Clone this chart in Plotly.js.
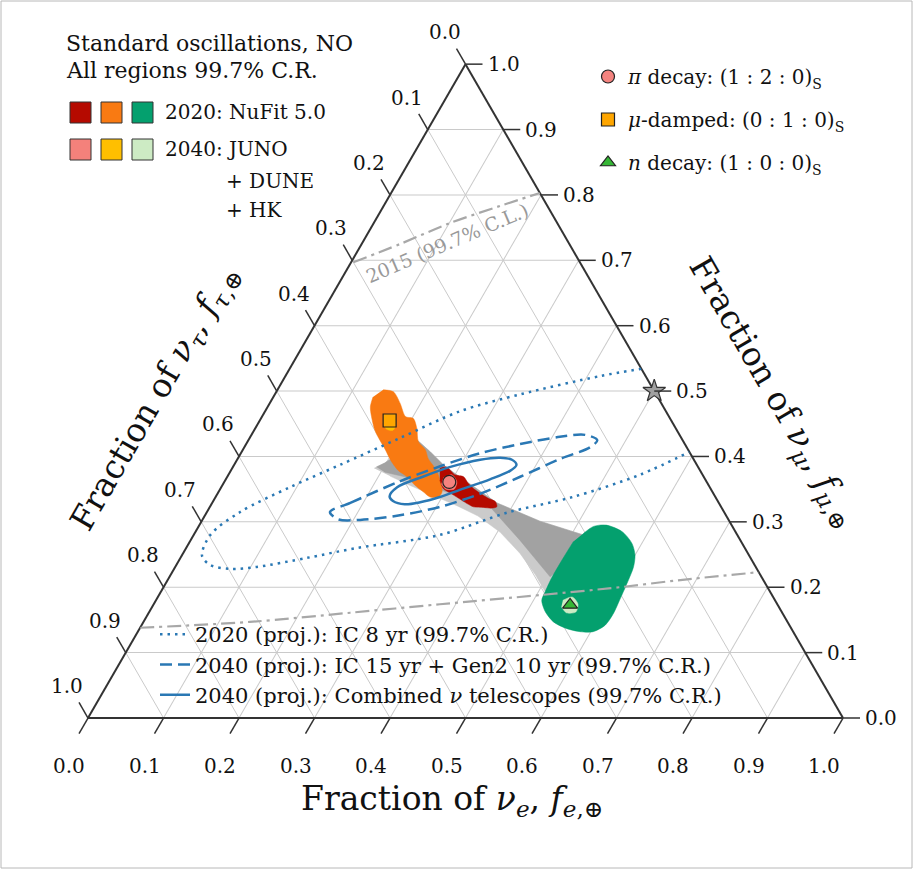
<!DOCTYPE html>
<html><head><meta charset="utf-8">
<script src="https://cdn.plot.ly/plotly-3.0.1.min.js"></script>
<style>html,body{margin:0;padding:0;background:#fff;} #chart{width:915px;height:871px;}</style>
</head><body><div id="chart"></div>
<script>
// ---------- DATA (ternary fractions at Earth: fe = f_e, fmu = f_mu, f_tau = 1 - fe - fmu) ----------
const tickVals = [0, 0.1, 0.2, 0.3, 0.4, 0.5, 0.6, 0.7, 0.8, 0.9, 1.0];
const tickText = ['0.0','0.1','0.2','0.3','0.4','0.5','0.6','0.7','0.8','0.9','1.0'];

// all source compositions (gray bands)
const grayOuter_fe  = [0.188,0.198,0.225,0.250,0.280,0.377,0.448,0.516,0.524,0.509,0.483,0.446,0.404,0.362,0.328,0.298,0.248,0.215];
const grayOuter_fmu = [0.382,0.390,0.424,0.407,0.385,0.329,0.301,0.280,0.242,0.193,0.219,0.252,0.284,0.309,0.324,0.336,0.356,0.370];
const grayInner_fe  = [0.190,0.198,0.225,0.250,0.280,0.377,0.448,0.516,0.515,0.504,0.436,0.371,0.331,0.292,0.243,0.205];
const grayInner_fmu = [0.384,0.390,0.424,0.407,0.385,0.329,0.301,0.280,0.234,0.216,0.272,0.323,0.336,0.349,0.367,0.376];

// 2020 NuFit 5.0 regions
const muDamped2020_fe  = [0.140,0.155,0.173,0.190,0.202,0.214,0.226,0.242,0.252,0.272,0.284,0.296,0.295,0.284,0.271,0.255,0.238,0.221,0.203,0.189,0.174,0.160,0.145,0.136,0.132];
const muDamped2020_fmu = [0.502,0.499,0.481,0.461,0.458,0.443,0.423,0.410,0.397,0.379,0.364,0.346,0.338,0.338,0.346,0.356,0.369,0.379,0.395,0.410,0.425,0.440,0.461,0.476,0.491];
const pion2020_fe  = [0.275,0.283,0.300,0.313,0.324,0.335,0.347,0.362,0.374,0.380,0.374,0.363,0.349,0.338,0.323,0.308,0.295,0.284];
const pion2020_fmu = [0.382,0.384,0.372,0.369,0.359,0.351,0.344,0.336,0.331,0.323,0.321,0.322,0.323,0.328,0.336,0.344,0.351,0.364];
const neutron2020_fe  = [0.515,0.523,0.539,0.565,0.587,0.600,0.607,0.611,0.614,0.616,0.614,0.603,0.586,0.565,0.543,0.524,0.511,0.509,0.507,0.507,0.508];
const neutron2020_fmu = [0.282,0.293,0.295,0.285,0.267,0.249,0.231,0.206,0.180,0.160,0.142,0.132,0.132,0.137,0.147,0.163,0.180,0.193,0.214,0.242,0.270];

// 2040 JUNO + DUNE + HK regions
const muDamped2040_fe  = [0.163,0.172,0.183,0.184,0.174,0.164];
const muDamped2040_fmu = [0.462,0.463,0.450,0.440,0.442,0.453];
const pion2040_fe  = [0.287,0.296,0.308,0.310,0.299,0.289];
const pion2040_fmu = [0.367,0.372,0.361,0.350,0.350,0.358];
const neutron2040_fe  = [0.539,0.549,0.562,0.565,0.553,0.542];
const neutron2040_fmu = [0.180,0.185,0.174,0.162,0.161,0.170];

// IceCube 2015 (99.7% C.L.) contour, parts inside the triangle
const ic2015Upper_fe  = [0.003,0.051,0.101,0.154,0.197];
const ic2015Upper_fmu = [0.697,0.725,0.757,0.783,0.803];
const ic2015Lower_fe  = [0.000,0.141,0.267,0.379,0.505,0.604,0.679,0.777];
const ic2015Lower_fmu = [0.138,0.147,0.161,0.174,0.188,0.200,0.211,0.223];

// projected neutrino-telescope contours
const ic8yr_fe  = [0.466,0.417,0.325,0.258,0.199,0.140,0.091,0.044,0.022,0.027,0.045,0.074,0.108,0.168,0.226,0.326,0.398,0.473,0.545,0.593];
const ic8yr_fmu = [0.534,0.523,0.495,0.469,0.428,0.387,0.353,0.315,0.280,0.248,0.234,0.228,0.231,0.245,0.260,0.280,0.314,0.338,0.372,0.407];
const gen2_fe  = [0.163,0.183,0.232,0.274,0.317,0.363,0.410,0.442,0.462,0.458,0.427,0.388,0.348,0.305,0.258,0.209,0.179,0.163];
const gen2_fmu = [0.315,0.329,0.362,0.385,0.405,0.419,0.430,0.433,0.425,0.414,0.396,0.369,0.343,0.323,0.310,0.303,0.304,0.315];
const comb_fe  = [0.230,0.233,0.259,0.288,0.322,0.347,0.364,0.374,0.370,0.350,0.318,0.297,0.275,0.256,0.238,0.230];
const comb_fmu = [0.339,0.353,0.369,0.384,0.395,0.398,0.395,0.387,0.378,0.365,0.349,0.338,0.330,0.327,0.332,0.339];

// benchmark source compositions, best fit at Earth
const sourceNames = ['<i>π</i> decay: (1 : 2 : 0)<sub>S</sub>', '<i>μ</i>-damped: (0 : 1 : 0)<sub>S</sub>', '<i>n</i> decay: (1 : 0 : 0)<sub>S</sub>'];
const source_fe  = [0.298, 0.172, 0.552];
const source_fmu = [0.361, 0.455, 0.173];
const star_fe = [0.5], star_fmu = [0.5];

const lineNames = ['2020 (proj.): IC 8 yr (99.7% C.R.)',
                   '2040 (proj.): IC 15 yr + Gen2 10 yr (99.7% C.R.)',
                   '2040 (proj.): Combined <i>ν</i> telescopes (99.7% C.R.)'];

// ---------- STYLE / GEOMETRY ----------
const FONT = 'DejaVu Serif';
const BLUE = '#2a78b4';
const W = 915, H = 871;
const TRI_L = 88, TRI_R = 843, TRI_B = 718;
const TRI_H = (TRI_R - TRI_L) * Math.sqrt(3) / 2;
const TRI_T = TRI_B - TRI_H;
const px = x => x / W, py = y => 1 - y / H;
// pixel position of a ternary point inside the ternary subplot (for axis decorations)
const ternXY = (fe, fmu) => [TRI_L + (TRI_R - TRI_L) * (fe + fmu / 2), TRI_B - TRI_H * fmu];

const tauOf = (fe, fmu) => fe.map((v, i) => 1 - v - fmu[i]);

function region(fe, fmu, color, smooth) {
  return {type:'scatterternary', mode:'lines', a:fmu, b:tauOf(fe, fmu), c:fe,
    fill:'toself', fillcolor:color, line:{color:color, width:0.5, shape: smooth ? 'spline' : 'linear', smoothing:0.8},
    showlegend:false, hoverinfo:'skip'};
}
function curve(fe, fmu, color, dash, width, extra) {
  return Object.assign({type:'scatterternary', mode:'lines', a:fmu, b:tauOf(fe, fmu), c:fe,
    line:{color:color, width:width, dash:dash, shape:'spline', smoothing:0.9}, hoverinfo:'skip'}, extra || {});
}

const data = [];
data.push(region(grayOuter_fe, grayOuter_fmu, '#cbcbcb', false));
data.push(region(grayInner_fe, grayInner_fmu, '#a2a2a2', false));
data.push(region(muDamped2020_fe, muDamped2020_fmu, '#f97a12', true));
data.push(region(pion2020_fe, pion2020_fmu, '#b50a00', true));
data.push(region(neutron2020_fe, neutron2020_fmu, '#04a06e', true));
data.push(region(muDamped2040_fe, muDamped2040_fmu, '#ffbf00', true));
data.push(region(pion2040_fe, pion2040_fmu, '#f4817b', true));
data.push(region(neutron2040_fe, neutron2040_fmu, '#cdebc4', true));

data.push(curve(ic2015Upper_fe, ic2015Upper_fmu, '#a8a8a8', '14px,5px,3px,5px', 2.2, {showlegend:false}));
data.push(curve(ic2015Lower_fe, ic2015Lower_fmu, '#a8a8a8', '14px,5px,3px,5px', 2.2, {showlegend:false}));

data.push(curve(ic8yr_fe, ic8yr_fmu, BLUE, '2.5px,5px', 2.5, {name:lineNames[0], legend:'legend2', legendgroup:'l1'}));
data.push(curve(gen2_fe, gen2_fmu, BLUE, '12px,6px', 2.5, {name:lineNames[1], legend:'legend2', legendgroup:'l2'}));
data.push(curve(comb_fe, comb_fmu, BLUE, 'solid', 2.5, {name:lineNames[2], legend:'legend2', legendgroup:'l3'}));

const srcSymbols = ['circle', 'square', 'triangle-up'];
const srcColors = ['#f4837f', '#ffa600', '#35b635'];
for (let i = 0; i < 3; i++) {
  data.push({type:'scatterternary', mode:'markers', name:sourceNames[i], legendgroup:'s'+i,
    a:[source_fmu[i]], b:[1 - source_fe[i] - source_fmu[i]], c:[source_fe[i]],
    marker:{symbol:srcSymbols[i], size:13, color:srcColors[i], line:{color:'#222', width:1.2}},
    cliponaxis:false, hoverinfo:'skip'});
}
data.push({type:'scatterternary', mode:'markers', showlegend:false, a:star_fmu, b:tauOf(star_fe, star_fmu), c:star_fe,
  marker:{symbol:'star', size:17, color:'#a0a0a0', line:{color:'#333', width:1.2}}, cliponaxis:false, hoverinfo:'skip'});

// ---------- LAYOUT ----------
const axisStyle = {min:0, showgrid:true, gridcolor:'#cacaca', gridwidth:1, tick0:0, dtick:0.1,
  showticklabels:false, ticks:'', showline:true, linecolor:'#333', linewidth:2, layer:'below traces', title:{text:''}};

const annFont = {family:FONT, size:20, color:'#111'};
const ann = (x, y, text, extra) => Object.assign({xref:'paper', yref:'paper', x:px(x), y:py(y), text:text,
  showarrow:false, xanchor:'left', yanchor:'middle', font:annFont}, extra || {});
const titleFont = {family:FONT, size:33, color:'#111'};
const headFont = {family:FONT, size:22, color:'#111'};

const annotations = [
  ann(64, 43, 'Standard oscillations, NO', {font:headFont}),
  ann(64, 71, 'All regions 99.7% C.R.', {font:headFont}),
  ann(163, 112, '2020: NuFit 5.0'),
  ann(163, 149, '2040: JUNO'),
  ann(224, 181, '+ DUNE'),
  ann(224, 210, '+ HK'),
  ann(447, 243, '2015 (99.7% C.L.)', {xanchor:'center', textangle:-23, font:{family:FONT, size:19, color:'#999999'}}),
  ann(452, 800, 'Fraction of <i>ν<sub>e</sub></i>, <i>f</i><sub><i>e</i>,⊕</sub>', {xanchor:'center', font:titleFont}),
  ann(155, 398, 'Fraction of <i>ν<sub>τ</sub></i>, <i>f</i><sub><i>τ</i>,⊕</sub>', {xanchor:'center', textangle:-60, font:titleFont}),
  ann(773, 392, 'Fraction of <i>ν<sub>μ</sub></i>, <i>f</i><sub><i>μ</i>,⊕</sub>', {xanchor:'center', textangle:60, font:titleFont})
];

const shapes = [];
// tick marks along grid directions + tick labels for the three ternary edges
const tickFont = {family:FONT, size:20, color:'#111'};
const tickLine = {color:'#333', width:1.5};
const cos60 = 0.5, sin60 = Math.sqrt(3) / 2;
tickVals.forEach((v, i) => {
  // bottom edge: f_e (ticks point down-left, parallel to the left edge)
  let [x, y] = ternXY(v, 0);
  shapes.push({type:'line', xref:'paper', yref:'paper', x0:px(x), y0:py(y), x1:px(x - 18 * cos60), y1:py(y + 18 * sin60), line:tickLine});
  annotations.push(ann(x - 19, y + 48, tickText[i], {xanchor:'center', font:tickFont}));
  // left edge: f_tau (ticks point up-left, parallel to the right edge)
  [x, y] = ternXY(0, 1 - v);
  shapes.push({type:'line', xref:'paper', yref:'paper', x0:px(x), y0:py(y), x1:px(x - 18 * cos60), y1:py(y - 18 * sin60), line:tickLine});
  annotations.push(ann(x - 21, y - 32, tickText[i], {xanchor:'center', font:tickFont}));
  // right edge: f_mu (horizontal ticks)
  [x, y] = ternXY(1 - v, v);
  shapes.push({type:'line', xref:'paper', yref:'paper', x0:px(x), y0:py(y), x1:px(x + 17), y1:py(y), line:tickLine});
  annotations.push(ann(x + 20, y, tickText[i], {xanchor:'left', font:tickFont}));
});

const squareColors = [['#b50a00', '#f97a12', '#04a06e'], ['#f4817b', '#ffbf00', '#cdebc4']];
const squareX = [70, 101, 132], squareY = [102, 139], SQ = 21;
squareColors.forEach((row, r) => row.forEach((col, k) => {
  shapes.push({type:'rect', xref:'paper', yref:'paper', x0:px(squareX[k]), x1:px(squareX[k] + SQ),
    y0:py(squareY[r] + SQ), y1:py(squareY[r]), fillcolor:col, line:{color:'#333', width:1}});
}));
// thin frame around the figure
shapes.push({type:'rect', xref:'paper', yref:'paper', x0:px(1), x1:px(912), y0:py(868), y1:py(1), line:{color:'#b8b8b8', width:1}});

const layout = {
  width:W, height:H, margin:{l:0, r:0, t:0, b:0}, paper_bgcolor:'#ffffff', hovermode:false,
  font:{family:FONT, color:'#111'},
  ternary:{sum:1, bgcolor:'rgba(0,0,0,0)', domain:{x:[px(TRI_L), px(TRI_R)], y:[py(TRI_B), py(TRI_T)]},
    aaxis:axisStyle, baxis:axisStyle, caxis:axisStyle},
  showlegend:true,
  legend:{x:px(588), y:py(57), xanchor:'left', yanchor:'top', bgcolor:'rgba(0,0,0,0)',
    font:{family:FONT, size:20, color:'#111'}, tracegroupgap:14, traceorder:'grouped'},
  legend2:{x:px(155), y:py(614), xanchor:'left', yanchor:'top', bgcolor:'rgba(0,0,0,0)',
    font:{family:FONT, size:21, color:'#111'}, tracegroupgap:0, traceorder:'grouped'},
  annotations:annotations, shapes:shapes
};

Plotly.newPlot('chart', data, layout, {staticPlot:true, displayModeBar:false});
</script></body></html>
